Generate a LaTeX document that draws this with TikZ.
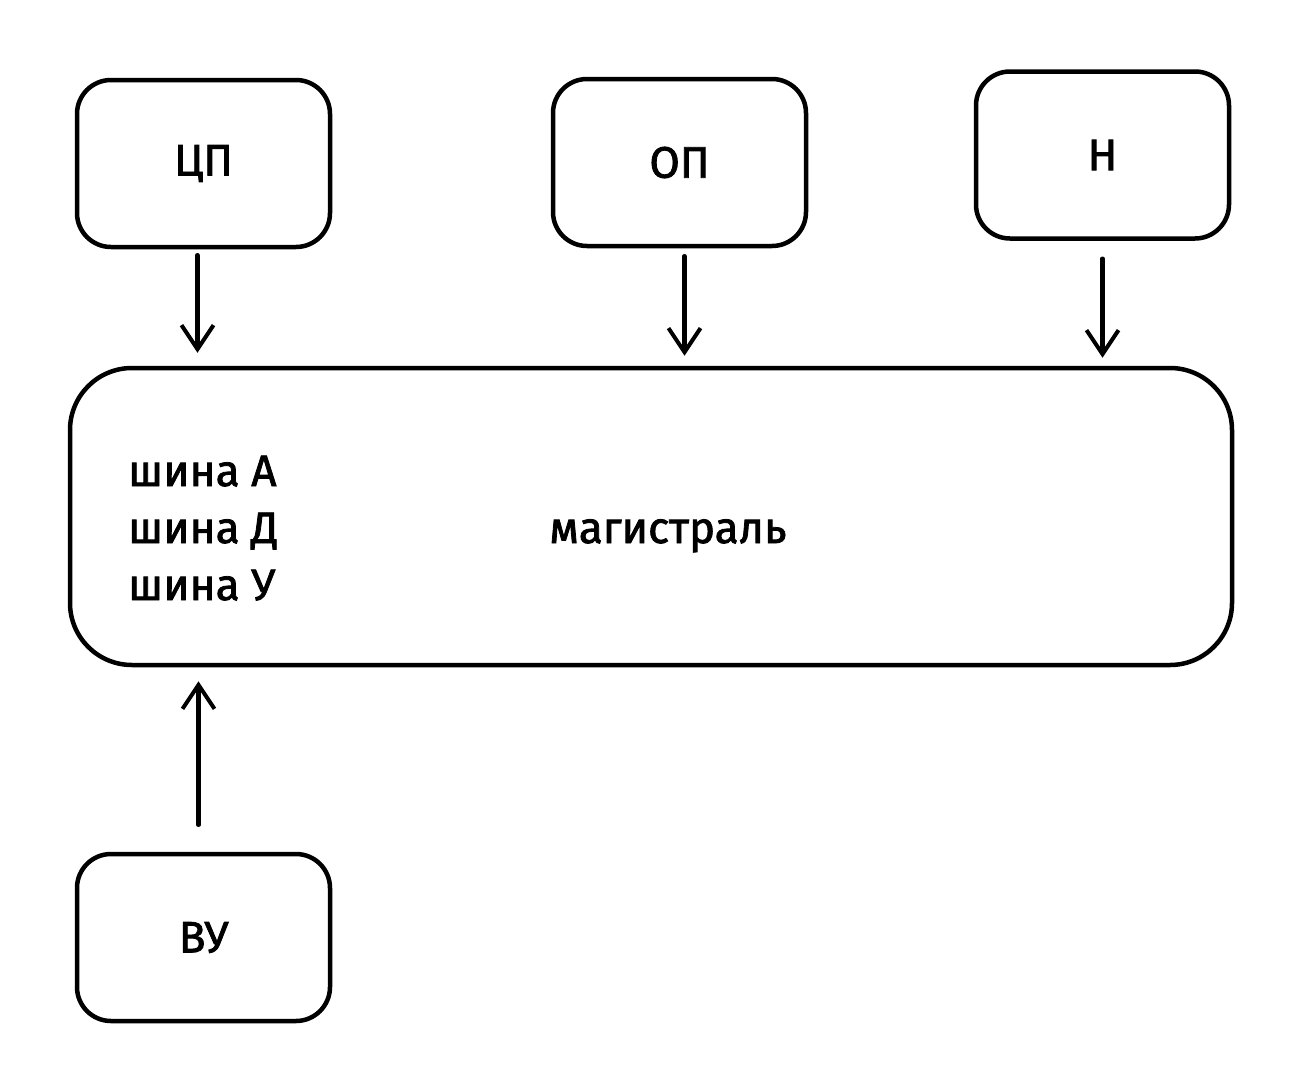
\documentclass[tikz,border=0pt]{standalone}
\usepackage{fontspec}
\setmainfont{Fira Sans}[FakeBold=1.8]
\usetikzlibrary{arrows.meta}
\begin{document}
\begin{tikzpicture}[x=1pt,y=-1pt,
  box/.style={draw=black,line width=4.5pt,rounded corners=34pt,minimum width=253pt,minimum height=167pt,inner sep=0pt,font=\fontsize{44}{48}\selectfont},
  bigbox/.style={draw=black,line width=4.5pt,rounded corners=62pt,minimum width=1162pt,minimum height=297pt,inner sep=0pt},
  lbl/.style={font=\fontsize{44}{48}\selectfont,inner sep=0pt},
  arr/.style={line width=4.5pt,-{Straight Barb[length=24pt,width=32pt,line width=4pt]},line cap=round}]
\useasboundingbox (0,0) rectangle (1310,1074);
\node[box] (cp) at (203.5,163.5) {ЦП};
\node[box] (op) at (679.5,162.5) {ОП};
\node[box] (n) at (1102.5,155) {Н};
\node[bigbox] (main) at (651,516.5) {};
\node[box] (vu) at (203.5,937.5) {ВУ};
\node[lbl,anchor=base west] (a) at (128,486) {шина А};
\node[lbl,anchor=base west] (d) at (128,543) {шина Д};
\node[lbl,anchor=base west] (u) at (128,600) {шина У};
\node[lbl,anchor=base] (mag) at (668,543) {магистраль};
\draw[arr,shorten <=6pt,shorten >=13pt] ([xshift=-6pt]cp.south) -- ([xshift=-6pt]cp.south |- main.north);
\draw[arr,shorten <=8pt,shorten >=10pt] ([xshift=5pt]op.south) -- ([xshift=5pt]op.south |- main.north);
\draw[arr,shorten <=18pt,shorten >=8pt] (n.south) -- (n.south |- main.north);
\draw[arr,shorten <=27pt,shorten >=14pt] ([xshift=-5pt]vu.north) -- ([xshift=-5pt]vu.north |- main.south);
\end{tikzpicture}
\end{document}
